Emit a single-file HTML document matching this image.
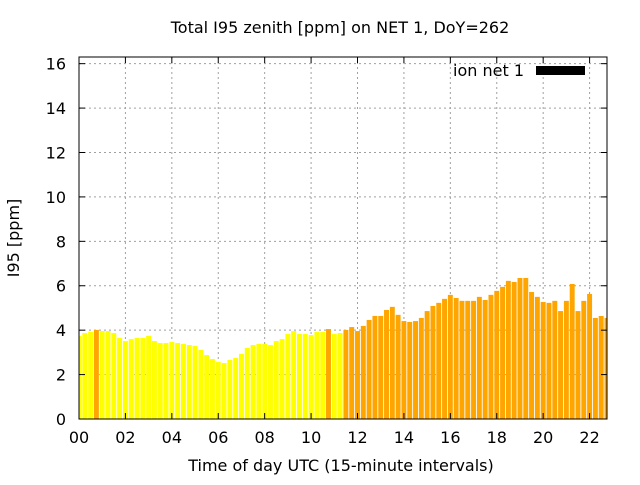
<!DOCTYPE html>
<html><head><meta charset="utf-8"><style>
body{margin:0;background:#fff;}
svg text{font-family:"DejaVu Sans","Liberation Sans",sans-serif;fill:#000;}
</style></head><body>
<svg id="chart" width="640" height="480" xmlns="http://www.w3.org/2000/svg">
<rect width="640" height="480" fill="#fff"/>
<text x="340" y="33" font-size="16" text-anchor="middle">Total I95 zenith [ppm] on NET 1, DoY=262</text>
<g id="grid"></g><g id="bars"></g><g id="axes"></g>
<text transform="translate(19,238) rotate(-90)" font-size="16" text-anchor="middle">I95 [ppm]</text>
<text x="341" y="471" font-size="16" text-anchor="middle">Time of day UTC (15-minute intervals)</text>
<g>
<text x="524" y="76" font-size="16" text-anchor="end">ion net 1</text>
<rect x="536" y="66" width="49" height="9" fill="#000"/>
</g>
</svg>
<script>
const values=[3.74,3.87,3.92,4.01,3.96,3.96,3.87,3.65,3.51,3.60,3.65,3.65,3.74,3.51,3.42,3.42,3.47,3.42,3.38,3.33,3.29,3.11,2.88,2.70,2.57,2.52,2.66,2.75,2.93,3.20,3.33,3.38,3.38,3.33,3.51,3.60,3.83,3.96,3.83,3.83,3.78,3.92,3.92,4.05,3.83,3.87,4.01,4.14,3.96,4.19,4.46,4.64,4.64,4.91,5.05,4.69,4.41,4.37,4.41,4.55,4.86,5.09,5.23,5.41,5.59,5.45,5.32,5.32,5.32,5.50,5.36,5.59,5.77,5.95,6.22,6.17,6.35,6.35,5.72,5.50,5.27,5.23,5.32,4.86,5.32,6.08,4.86,5.32,5.63,4.55,4.64,4.55];
const orangeIdx=[3,43];
const orangeFrom=46;
const yTicks=[0,2,4,6,8,10,12,14,16];
const xTickLabels=["00","02","04","06","08","10","12","14","16","18","20","22"];
const L=79,R=607,T=57,B=419,XMAX=91,YMIN=0,YMAX=16.3;
const xs=i=>L+i*(R-L)/XMAX;
const ys=v=>B-(v-YMIN)*(B-T)/(YMAX-YMIN);
const NS="http://www.w3.org/2000/svg";
function mk(tag,attrs,parent){const e=document.createElementNS(NS,tag);for(const k in attrs)e.setAttribute(k,attrs[k]);parent.appendChild(e);return e;}
const grid=document.getElementById('grid'),bars=document.getElementById('bars'),axes=document.getElementById('axes');
yTicks.forEach(t=>{const y=ys(t);
 if(t>0){const g=mk('line',{x1:L,x2:R,y1:y,y2:y,stroke:'#a0a0a0','stroke-dasharray':'2,3'},grid);
 
 }
 const tk=mk('line',{x1:L,x2:L+6,y1:y,y2:y,stroke:'#000'},axes);
 
 
 mk('line',{x1:R-6,x2:R,y1:y,y2:y,stroke:'#000'},axes);
 const tx=mk('text',{x:66,y:y+6,'font-size':16,'text-anchor':'end'},axes);tx.textContent=t;
 
 
});
xTickLabels.forEach((lab,k)=>{const x=xs(k*8);
 if(k>0){const g=mk('line',{x1:x,x2:x,y1:T,y2:B,stroke:'#a0a0a0','stroke-dasharray':'2,3'},grid);
 
 }
 mk('line',{x1:x,x2:x,y1:B,y2:B-6,stroke:'#000'},axes);
 mk('line',{x1:x,x2:x,y1:T,y2:T+6,stroke:'#000'},axes);
 const tx=mk('text',{x:x,y:443,'font-size':16,'text-anchor':'middle'},axes);tx.textContent=lab;
 
 
});
const bw=(R-L)/XMAX*0.85;
values.forEach((v,i)=>{const cx=xs(i);let x0=Math.max(L,cx-bw/2),x1=Math.min(R,cx+bw/2);
 const col=(i>=orangeFrom||orangeIdx.includes(i))?'#ffa500':'#ffff00';
 const r=mk('rect',{x:x0,y:ys(v),width:x1-x0,height:B-ys(v),fill:col},bars);
 
 
});
const fr=mk('rect',{x:L,y:T,width:R-L,height:B-T,fill:'none',stroke:'#000','stroke-width':1},axes);


</script>
</body></html>
